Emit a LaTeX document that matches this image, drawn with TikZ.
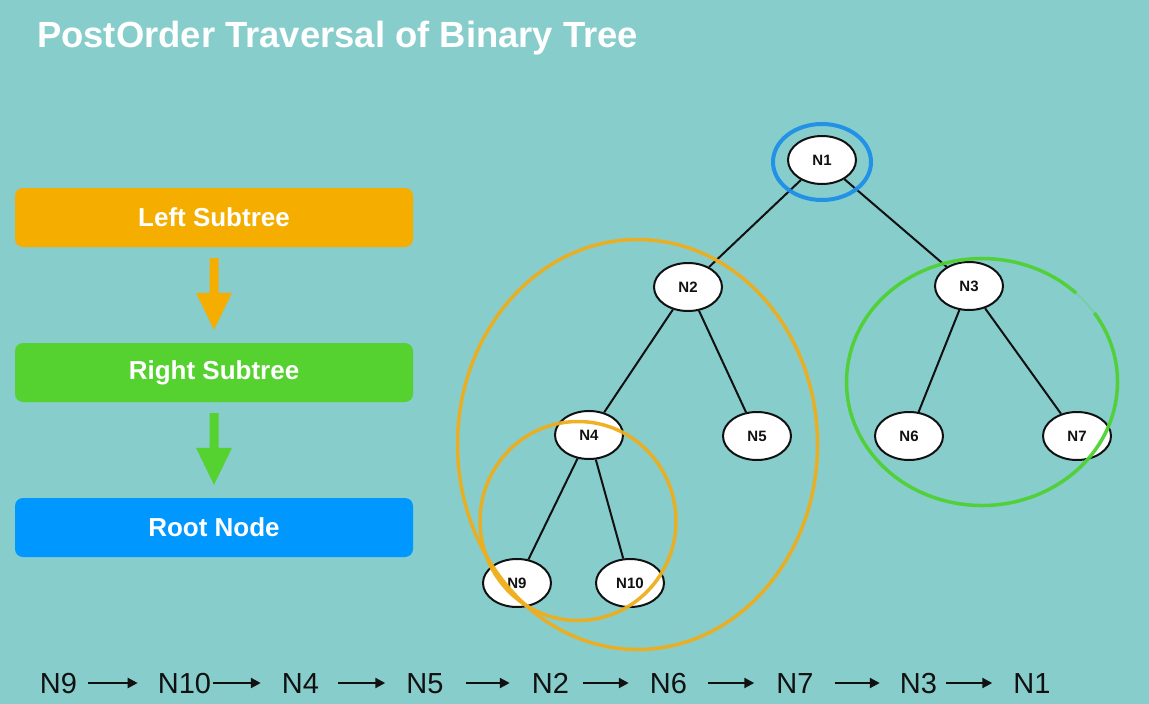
\documentclass[tikz,border=0pt]{standalone}
\usepackage{fontspec}
\setmainfont{Liberation Sans}
\usetikzlibrary{shapes.geometric,arrows.meta,calc}

\definecolor{bg}{HTML}{86CDCC}
\definecolor{boxorange}{HTML}{F5AE00}
\definecolor{boxgreen}{HTML}{55D130}
\definecolor{boxblue}{HTML}{0097FF}
\definecolor{ringorange}{HTML}{EFAE1C}
\definecolor{ringgreen}{HTML}{4FD132}
\definecolor{ringblue}{HTML}{1C8FE8}
\definecolor{ink}{HTML}{111111}

% block arrow from the bottom of one box to the top of the next
\newcommand\blockarrow[3]{%
  \fill[#3] ($(#1.south)+(-4.5,11)$) -- ($(#1.south)+(4.5,11)$)
    -- ($(#2.north)+(4.5,-50)$) -- ($(#2.north)+(18,-50)$)
    -- ($(#2.north)+(0,-13)$)
    -- ($(#2.north)+(-18,-50)$) -- ($(#2.north)+(-4.5,-50)$) -- cycle;}

\tikzset{
  stepbox/.style={rounded corners=8pt, minimum width=398pt, minimum height=59pt,
    inner sep=0pt, text=white, font=\bfseries\fontsize{26}{30}\selectfont},
  treenode/.style={ellipse, draw=ink, line width=2pt, fill=white,
    minimum width=68pt, minimum height=48pt, inner sep=0pt, text=ink,
    font=\bfseries\fontsize{15}{18}\selectfont},
  treeedge/.style={line width=2pt, draw=ink},
  ring/.style={line width=3.5pt, opacity=0.95},
  seqitem/.style={anchor=base, inner sep=0pt, text height=20pt, text depth=0pt,
    text=ink, font=\fontsize{29}{34}\selectfont},
  seqarrow/.style={line width=2.2pt, draw=ink, -{Triangle[length=10pt,width=10pt]}},
}

\begin{document}
\begin{tikzpicture}[x=1pt,y=-1pt]
  \fill[bg] (0,0) rectangle (1149,704);
  \useasboundingbox (0,0) rectangle (1149,704);

  % title
  \node[anchor=base west, inner sep=0pt, text=white,
        font=\bfseries\fontsize{36.4}{40}\selectfont] (title) at (37,47)
        {PostOrder Traversal of Binary Tree};

  % order of visiting
  \node[stepbox, fill=boxorange] (lst) at (214,217.5) {Left Subtree};
  \node[stepbox, fill=boxgreen]  (rst) at (214,372.5) {Right Subtree};
  \node[stepbox, fill=boxblue]   (rtn) at (214,527.5) {Root Node};
  \blockarrow{lst}{rst}{boxorange}
  \blockarrow{rst}{rtn}{boxgreen}

  % binary tree
  \node[treenode] (n1)  at (822,160) {N1};
  \node[treenode] (n2)  at (688,287) {N2};
  \node[treenode] (n3)  at (969,286) {N3};
  \node[treenode] (n4)  at (589,435) {N4};
  \node[treenode] (n5)  at (757,436) {N5};
  \node[treenode] (n6)  at (909,436) {N6};
  \node[treenode] (n7)  at (1077,436) {N7};
  \node[treenode] (n9)  at (517,583) {N9};
  \node[treenode] (n10) at (630,583) {N10};

  \draw[treeedge] (n1) -- (n2);
  \draw[treeedge] (n1) -- (n3);
  \draw[treeedge] (n2) -- (n4);
  \draw[treeedge] (n2) -- (n5);
  \draw[treeedge] (n3) -- (n6);
  \draw[treeedge] (n3) -- (n7);
  \draw[treeedge] (n4) -- (n9);
  \draw[treeedge] (n4) -- (n10);

  % subtree rings
  \draw[ring, ringblue, line width=4pt] (822,162) ellipse [x radius=49, y radius=38];
  \draw[ring, ringorange] (637.5,444.5) ellipse [x radius=180, y radius=205];
  \draw[ring, ringorange] (578,521) ellipse [x radius=98, y radius=99.5];
  \draw[ring, ringgreen] (982,382) ++(-34:135.5 and 123.5)
    arc[start angle=-34, end angle=314, x radius=135.5, y radius=123.5];
  \draw[ring, ringgreen, opacity=0.3, line width=1.5pt] (982,382) ++(314:135.5 and 123.5)
    arc[start angle=314, end angle=326, x radius=135.5, y radius=123.5];

  % resulting sequence
  \foreach \n/\x in {9/58.5, 10/184.5, 4/300.5, 5/425, 2/550.5, 6/668.5, 7/795, 3/918.5, 1/1032}
    \node[seqitem] (s\n) at (\x,693) {N\n};
  \foreach \a/\b/\g/\h in {9/10/11/20, 10/4/2/21, 4/5/19/21, 5/2/22/22,
                           2/6/14/21, 6/7/21/22, 7/3/21/20, 3/1/9/21}
    \draw[seqarrow] ([xshift=\g pt]s\a.east) -- ([xshift=-\h pt]s\b.west);
\end{tikzpicture}
\end{document}
